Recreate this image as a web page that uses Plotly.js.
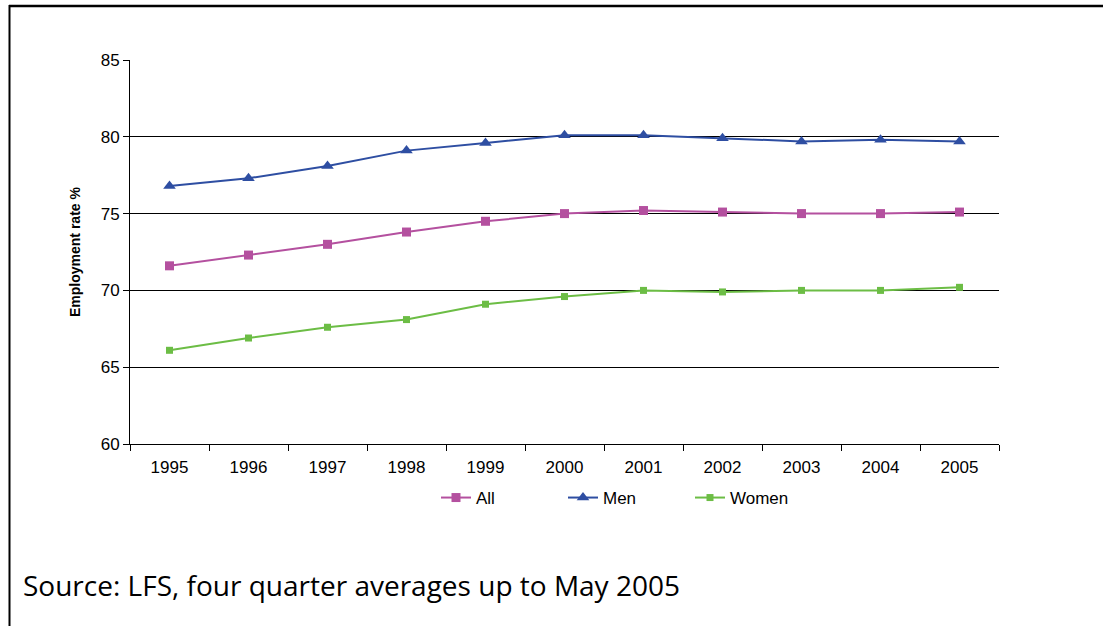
<!DOCTYPE html>
<html>
<head>
<meta charset="utf-8">
<script src="https://cdn.plot.ly/plotly-3.0.1.min.js"></script>
<style>
  html, body { margin: 0; padding: 0; background: #fff; }
  #chart { width: 1103px; height: 626px; }
</style>
</head>
<body>
<div id="chart"></div>
<script>
const years = ['1995','1996','1997','1998','1999','2000','2001','2002','2003','2004','2005'];
const allValues   = [71.6, 72.3, 73.0, 73.8, 74.5, 75.0, 75.2, 75.1, 75.0, 75.0, 75.1];
const menValues   = [76.8, 77.3, 78.1, 79.1, 79.6, 80.1, 80.1, 79.9, 79.7, 79.8, 79.7];
const womenValues = [66.1, 66.9, 67.6, 68.1, 69.1, 69.6, 70.0, 69.9, 70.0, 70.0, 70.2];
const seriesNames = ['All', 'Men', 'Women'];
const yTicks = [60, 65, 70, 75, 80, 85];
const sourceText = 'Source: LFS, four quarter averages up to May 2005';
const yTitle = 'Employment rate %';

const W = 1103, H = 626;
const M = {l: 130, r: 104, t: 60, b: 182};
const pw = W - M.l - M.r, ph = H - M.t - M.b;
const px = x => (x - M.l) / pw;
const py = y => (H - M.b - y) / ph;

const traces = [
  {x: years, y: allValues, name: seriesNames[0], type: 'scatter', mode: 'lines+markers',
   line: {color: '#B4509F', width: 2}, marker: {symbol: 'square', size: 9, color: '#B4509F'}},
  {x: years, y: menValues, name: seriesNames[1], type: 'scatter', mode: 'lines+markers',
   line: {color: '#2E4EA2', width: 2}, marker: {symbol: 'triangle-up', size: 11, color: '#2E4EA2'}},
  {x: years, y: womenValues, name: seriesNames[2], type: 'scatter', mode: 'lines+markers',
   line: {color: '#6CBD45', width: 2}, marker: {symbol: 'square', size: 7, color: '#6CBD45'}}
];

const layout = {
  width: W, height: H,
  margin: M,
  paper_bgcolor: '#fff', plot_bgcolor: '#fff',
  font: {family: '"Liberation Sans", Arial, sans-serif', color: '#000', size: 17},
  showlegend: true,
  legend: {orientation: 'h', x: px(436), xanchor: 'left', y: py(498), yanchor: 'middle',
           font: {size: 17, family: '"Liberation Sans", Arial, sans-serif'},
           entrywidth: 82, itemwidth: 30, bgcolor: 'rgba(0,0,0,0)'},
  xaxis: {type: 'category', range: [-0.5, 10.5], tickson: 'boundaries', ticks: 'outside',
          ticklen: 6, tickcolor: '#000', showline: true, linecolor: '#000', linewidth: 1,
          showgrid: false, zeroline: false, tickfont: {size: 17}, ticklabelstandoff: 8,
          fixedrange: true},
  yaxis: {range: [60, 85], tickvals: yTicks, ticks: 'outside', ticklen: 6, tickcolor: '#000',
          showline: true, linecolor: '#000', linewidth: 1, showgrid: true, gridcolor: '#000',
          gridwidth: 1, zeroline: false, tickfont: {size: 17},
          title: {text: yTitle, font: {size: 14, family: '"Liberation Sans", Arial, sans-serif', weight: 'bold'}, standoff: 16}},
  shapes: [
    {type: 'line', xref: 'paper', yref: 'paper', x0: px(9), x1: px(1103), y0: py(6), y1: py(6),
     line: {color: '#000', width: 2.5}},
    {type: 'line', xref: 'paper', yref: 'paper', x0: px(9.5), x1: px(9.5), y0: py(5), y1: py(626),
     line: {color: '#000', width: 2}}
  ],
  annotations: [
    {text: sourceText, xref: 'paper', yref: 'paper', x: px(21), y: py(585), xanchor: 'left',
     yanchor: 'middle', showarrow: false,
     font: {family: '"Open Sans", "Noto Sans", sans-serif', size: 28, color: '#000'}}
  ]
};

Plotly.newPlot('chart', traces, layout, {displayModeBar: false, staticPlot: true});
</script>
</body>
</html>
